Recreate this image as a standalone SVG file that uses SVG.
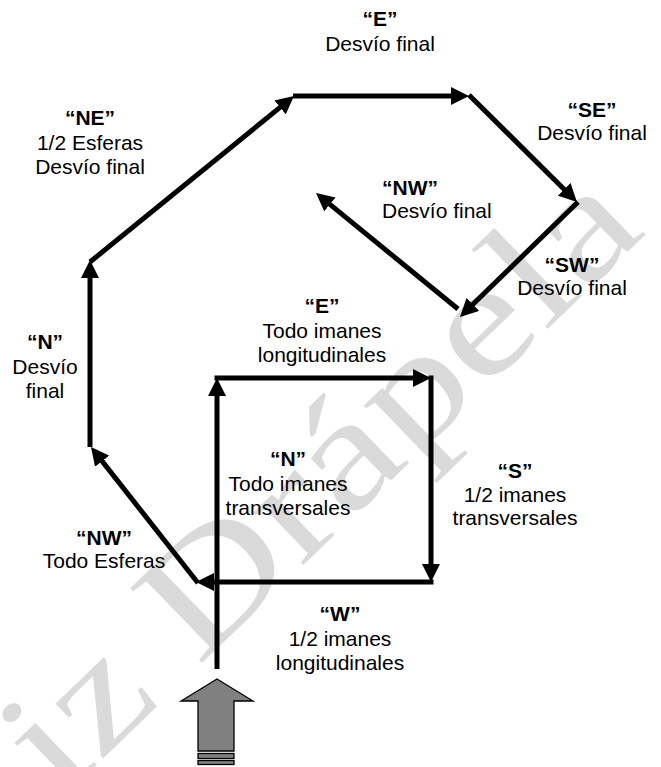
<svg xmlns="http://www.w3.org/2000/svg" width="661" height="767" viewBox="0 0 661 767">
<style>
.t{font-family:"Liberation Sans",Arial,sans-serif;font-size:21px;fill:#000;text-anchor:middle}
.l{text-anchor:start}
.b{font-weight:bold}
.c{fill:none;stroke:#000;stroke-width:5;stroke-linecap:butt;marker-end:url(#ah)}
.wm{font-family:"Liberation Serif","Times New Roman",serif;font-size:158px;fill:#dadada}
.big{fill:#808080;stroke:#000;stroke-width:1.3}
</style>
<defs>
<marker id="ah" markerUnits="userSpaceOnUse" markerWidth="18" markerHeight="18" refX="2" refY="9" orient="auto" viewBox="0 0 18 18"><path d="M0,0 L18,9 L0,18 z" fill="#000"/></marker>
</defs>
<rect width="661" height="767" fill="#fff"/>
<g id="watermark"><text class="wm" transform="translate(60,800) rotate(-44) scale(1.25,1)">iz Drápela</text></g>
<g id="connectors">
<path class="c" d="M217,669 L217,394"/>
<path class="c" d="M214.5,378 L415,378"/>
<path class="c" d="M431,375.5 L431,566"/>
<path class="c" d="M433.5,582 L212,582"/>
<path class="c" d="M198,583 L100.9,459.6"/>
<path class="c" d="M90,447 L90,276"/>
<path class="c" d="M90,262 L281.6,106.1"/>
<path class="c" d="M293,96 L453,96"/>
<path class="c" d="M469,95 L565.6,190.7"/>
<path class="c" d="M578,202 L471.4,305.8"/>
<path class="c" d="M458,309 L328.4,203.1"/>
</g>
<g id="entry-arrow">
<path class="big" d="M217,679 L253,701 L234,701 L234,751 L198,751 L198,701 L181,701 z"/>
<rect class="big" x="198" y="753.5" width="36" height="5"/>
<rect class="big" x="198" y="760.5" width="36" height="4"/>
</g>
<g id="lbl-E-top"><text class="t b" x="380" y="26">“E”</text><text class="t" x="380" y="51">Desvío final</text></g>
<g id="lbl-NE"><text class="t b" x="90" y="125">“NE”</text><text class="t" x="90" y="150">1/2 Esferas</text><text class="t" x="90" y="174">Desvío final</text></g>
<g id="lbl-SE"><text class="t b" x="592" y="117">“SE”</text><text class="t" x="592" y="140">Desvío final</text></g>
<g id="lbl-NW-inner"><text class="t l b" x="382" y="195">“NW”</text><text class="t l" x="382" y="218">Desvío final</text></g>
<g id="lbl-SW"><text class="t b" x="572" y="272">“SW”</text><text class="t" x="572" y="295">Desvío final</text></g>
<g id="lbl-N-left"><text class="t b" x="45" y="349">“N”</text><text class="t" x="45" y="374">Desvío</text><text class="t" x="45" y="398">final</text></g>
<g id="lbl-E-square"><text class="t b" x="322" y="313">“E”</text><text class="t" x="322" y="338">Todo imanes</text><text class="t" x="322" y="362">longitudinales</text></g>
<g id="lbl-N-square"><text class="t b" x="288" y="466">“N”</text><text class="t" x="288" y="491">Todo imanes</text><text class="t" x="288" y="515">transversales</text></g>
<g id="lbl-S"><text class="t b" x="515" y="478">“S”</text><text class="t" x="515" y="502">1/2 imanes</text><text class="t" x="515" y="525">transversales</text></g>
<g id="lbl-NW-outer"><text class="t b" x="104" y="545">“NW”</text><text class="t" x="104" y="568">Todo Esferas</text></g>
<g id="lbl-W"><text class="t b" x="340" y="621">“W”</text><text class="t" x="340" y="646">1/2 imanes</text><text class="t" x="340" y="670">longitudinales</text></g>
</svg>
